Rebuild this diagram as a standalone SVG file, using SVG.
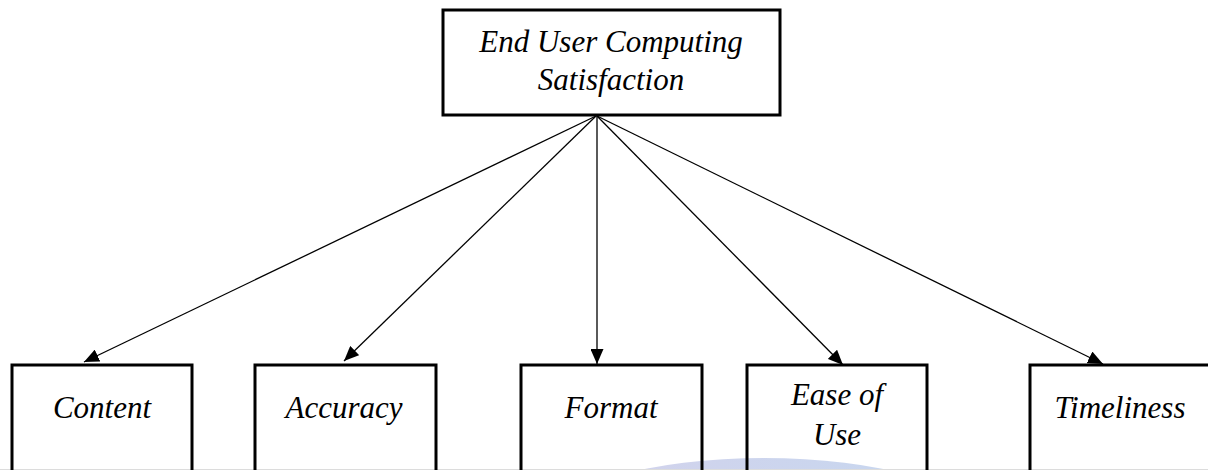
<svg xmlns="http://www.w3.org/2000/svg" width="1208" height="470" viewBox="0 0 1208 470">
  <style>
    .box { fill: none; stroke: #000; stroke-width: 3; }
    .lbl { font-family: "Liberation Serif", "Times New Roman", serif; font-style: italic; font-size: 31px; fill: #000; text-anchor: middle; }
    .conn { stroke: #000; stroke-width: 1.3; fill: none; marker-end: url(#arrow); }
  </style>
  <defs>
    <marker id="arrow" viewBox="0 0 15 13" refX="15" refY="6.5" markerWidth="15" markerHeight="13" markerUnits="userSpaceOnUse" orient="auto">
      <path d="M0,0 L15,6.5 L0,13 z" fill="#000"/>
    </marker>
    <linearGradient id="wm" x1="0" y1="0" x2="1" y2="0">
      <stop offset="0" stop-color="#cfcde9"/>
      <stop offset="1" stop-color="#bfd3ee"/>
    </linearGradient>
  </defs>
  <rect width="1208" height="470" fill="#fff"/>
  <ellipse cx="764" cy="520" rx="210" ry="62" fill="url(#wm)" opacity="0.9"/>
  <line x1="0" y1="469.5" x2="1208" y2="469.5" stroke="#dcdcdc" stroke-width="1"/>

  <g id="connectors">
    <line class="conn" x1="596" y1="116" x2="84" y2="362"/>
    <line class="conn" x1="596" y1="116" x2="344" y2="361"/>
    <line class="conn" x1="597" y1="116" x2="597" y2="364"/>
    <line class="conn" x1="597" y1="116" x2="843" y2="365"/>
    <line class="conn" x1="597" y1="116" x2="1103" y2="364"/>
  </g>

  <g id="n-eucs">
    <rect class="box" x="443" y="10" width="337" height="105"/>
    <text class="lbl" x="611" y="52">End User Computing</text>
    <text class="lbl" x="611" y="90">Satisfaction</text>
  </g>
  <g id="n-content">
    <rect class="box" x="12" y="365" width="180" height="110"/>
    <text class="lbl" x="102" y="418">Content</text>
  </g>
  <g id="n-accuracy">
    <rect class="box" x="255" y="365" width="181" height="110"/>
    <text class="lbl" x="344" y="418">Accuracy</text>
  </g>
  <g id="n-format">
    <rect class="box" x="521" y="365" width="181" height="110"/>
    <text class="lbl" x="611" y="418">Format</text>
  </g>
  <g id="n-ease">
    <rect class="box" x="747" y="365" width="180" height="110"/>
    <text class="lbl" x="837" y="405">Ease of</text>
    <text class="lbl" x="837" y="445">Use</text>
  </g>
  <g id="n-timeliness">
    <rect class="box" x="1030" y="365" width="180" height="110"/>
    <text class="lbl" x="1120" y="418">Timeliness</text>
  </g>
</svg>
